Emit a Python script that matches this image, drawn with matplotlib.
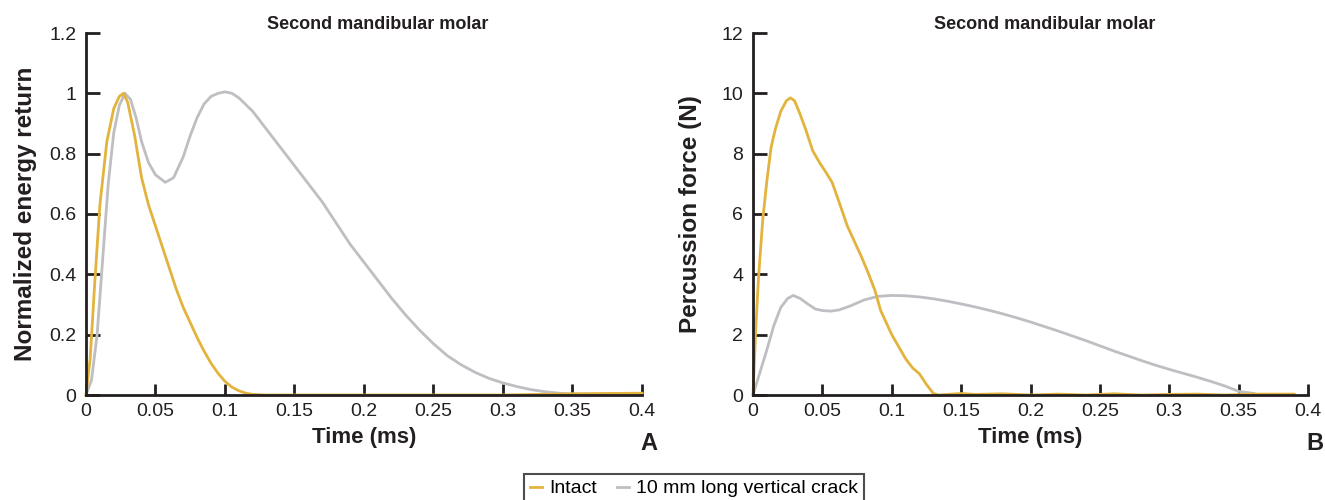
import matplotlib.pyplot as plt

plt.rcParams['font.family'] = ['Liberation Sans', 'DejaVu Sans']

YELLOW = '#E2B33D'
GRAY = '#BEBEC3'
INK = '#231f20'

# panel A: normalized energy return
t_intact_a = [0, 0.003, 0.006, 0.01, 0.015, 0.02, 0.024, 0.027, 0.03, 0.035, 0.04, 0.045,
              0.05, 0.055, 0.06, 0.065, 0.07, 0.075, 0.08, 0.085, 0.09, 0.095, 0.1, 0.105,
              0.11, 0.115, 0.12, 0.13, 0.2, 0.3, 0.35, 0.4]
e_intact = [0, 0.12, 0.35, 0.63, 0.84, 0.95, 0.99, 1.0, 0.97, 0.86, 0.72, 0.63,
            0.56, 0.49, 0.42, 0.35, 0.29, 0.24, 0.19, 0.145, 0.105, 0.072, 0.045, 0.026,
            0.014, 0.006, 0.002, 0.0, 0.0, 0.0, 0.004, 0.006]
t_crack_a = [0, 0.004, 0.008, 0.012, 0.016, 0.02, 0.024, 0.028, 0.032, 0.036, 0.04, 0.045,
             0.05, 0.057, 0.063, 0.07, 0.075, 0.08, 0.085, 0.09, 0.095, 0.1, 0.105, 0.11,
             0.12, 0.13, 0.14, 0.15, 0.16, 0.17, 0.18, 0.19, 0.2, 0.21, 0.22, 0.23, 0.24,
             0.25, 0.26, 0.27, 0.28, 0.29, 0.3, 0.31, 0.32, 0.33, 0.34, 0.35, 0.37, 0.4]
e_crack = [0, 0.05, 0.2, 0.45, 0.7, 0.87, 0.96, 1.0, 0.98, 0.92, 0.84, 0.77,
           0.73, 0.705, 0.72, 0.79, 0.86, 0.92, 0.965, 0.99, 1.0, 1.005, 1.0, 0.985,
           0.94, 0.88, 0.82, 0.76, 0.7, 0.64, 0.57, 0.5, 0.44, 0.38, 0.32, 0.265, 0.215,
           0.17, 0.13, 0.1, 0.075, 0.055, 0.04, 0.028, 0.018, 0.011, 0.006, 0.003, 0.003, 0.004]

# panel B: percussion force (N)
t_intact_b = [0, 0.002, 0.004, 0.007, 0.01, 0.013, 0.016, 0.02, 0.024, 0.027, 0.03, 0.034,
              0.038, 0.043, 0.048, 0.053, 0.057, 0.062, 0.068, 0.073, 0.078, 0.083, 0.088,
              0.092, 0.096, 0.1, 0.105, 0.11, 0.115, 0.12, 0.125, 0.13, 0.134, 0.14, 0.15,
              0.16, 0.18, 0.2, 0.22, 0.24, 0.26, 0.28, 0.3, 0.32, 0.34, 0.36, 0.39]
f_intact = [0, 2.2, 3.9, 5.8, 7.1, 8.2, 8.8, 9.4, 9.75, 9.85, 9.75, 9.3,
            8.8, 8.1, 7.7, 7.35, 7.05, 6.4, 5.6, 5.1, 4.6, 4.05, 3.45,
            2.8, 2.4, 2.0, 1.6, 1.2, 0.9, 0.7, 0.35, 0.05, 0.0, 0.02, 0.05,
            0.02, 0.04, 0.0, 0.03, 0.0, 0.04, 0.0, 0.02, 0.03, 0.0, 0.03, 0.03]
t_crack_b = [0, 0.005, 0.01, 0.015, 0.02, 0.025, 0.029, 0.034, 0.04, 0.045, 0.05, 0.056,
             0.062, 0.07, 0.08, 0.09, 0.1, 0.11, 0.12, 0.13, 0.14, 0.15, 0.16, 0.17, 0.18,
             0.19, 0.2, 0.21, 0.22, 0.23, 0.24, 0.25, 0.26, 0.27, 0.28, 0.29, 0.3, 0.31,
             0.32, 0.33, 0.34, 0.35, 0.361]
f_crack = [0, 0.75, 1.5, 2.3, 2.9, 3.2, 3.3, 3.2, 3.0, 2.85, 2.8, 2.78,
           2.82, 2.95, 3.15, 3.27, 3.3, 3.29, 3.25, 3.19, 3.11, 3.02, 2.92, 2.81, 2.69,
           2.56, 2.42, 2.27, 2.12, 1.96, 1.8, 1.63, 1.46, 1.3, 1.14, 0.99, 0.85, 0.72,
           0.59, 0.45, 0.3, 0.12, 0.05]

x_ticks = [0, 0.05, 0.1, 0.15, 0.2, 0.25, 0.3, 0.35, 0.4]
x_labels = ['0', '0.05', '0.1', '0.15', '0.2', '0.25', '0.3', '0.35', '0.4']
ya_ticks = [0, 0.2, 0.4, 0.6, 0.8, 1.0, 1.2]
ya_labels = ['0', '0.2', '0.4', '0.6', '0.8', '1', '1.2']
yb_ticks = [0, 2, 4, 6, 8, 10, 12]
yb_labels = ['0', '2', '4', '6', '8', '10', '12']

fig = plt.figure(figsize=(13.25, 5), dpi=100)
ax_a = fig.add_axes([0.0649, 0.21, 0.4196, 0.724])
ax_b = fig.add_axes([0.5683, 0.21, 0.4189, 0.724])

ax_a.plot(t_crack_a, e_crack, color=GRAY, lw=2, label='10 mm long vertical crack')
ax_a.plot(t_intact_a, e_intact, color=YELLOW, lw=2, label='Intact')
ax_b.plot(t_crack_b, f_crack, color=GRAY, lw=2)
ax_b.plot(t_intact_b, f_intact, color=YELLOW, lw=2)

for ax, yt, yl, ylab, ymax, letter, lpad in [
        (ax_a, ya_ticks, ya_labels, 'Normalized energy return', 1.2, 'A', 9),
        (ax_b, yb_ticks, yb_labels, 'Percussion force (N)', 12, 'B', 14)]:
    ax.set_xlim(0, 0.4)
    ax.set_ylim(0, ymax)
    ax.set_xticks(x_ticks)
    ax.set_xticklabels(x_labels)
    ax.set_yticks(yt)
    ax.set_yticklabels(yl)
    for s in ['top', 'right']:
        ax.spines[s].set_visible(False)
    for s in ['left', 'bottom']:
        ax.spines[s].set_linewidth(2)
        ax.spines[s].set_color(INK)
    ax.tick_params(direction='in', width=2, color=INK,
                   labelsize=14, labelcolor=INK)
    ax.tick_params(axis='y', length=10, pad=7)
    ax.tick_params(axis='x', length=8, pad=6)
    ax.set_xlabel('Time (ms)', fontsize=16, fontweight='bold', color=INK, labelpad=5)
    ax.set_ylabel(ylab, fontsize=17.5, fontweight='bold', color=INK, labelpad=lpad)
    ax.set_title('Second mandibular molar', fontsize=13, fontweight='bold',
                 color=INK, x=0.525, pad=0)
    ax.text(1.012, -0.133, letter, transform=ax.transAxes, fontsize=17,
            fontweight='bold', color=INK, ha='center', va='center')
    for line in ax.lines:
        line.set_clip_on(False)

h, l = ax_a.get_legend_handles_labels()
leg = fig.legend(h[::-1], l[::-1], loc='upper center', bbox_to_anchor=(0.524, 0.052),
                 ncol=2, frameon=True, fancybox=False, fontsize=14, handlelength=0.6,
                 handletextpad=0.4, columnspacing=1.0, borderpad=0.3, borderaxespad=0)
leg.get_frame().set_edgecolor(INK)
leg.get_frame().set_linewidth(1.5)

fig.savefig('out.png', dpi=100)
